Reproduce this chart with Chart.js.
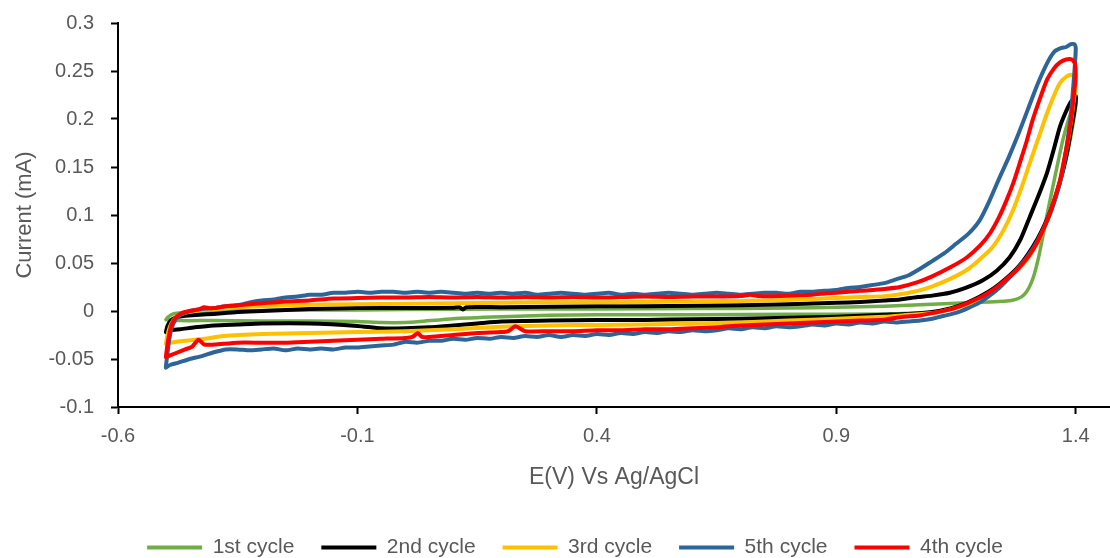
<!DOCTYPE html>
<html>
<head>
<meta charset="utf-8">
<script src="https://cdn.jsdelivr.net/npm/chart.js@4.4.1/dist/chart.umd.min.js"></script>
<style>
  html, body { margin: 0; padding: 0; background: #ffffff; }
  #wrap { width: 1110px; height: 558px; }
</style>
</head>
<body>
<div id="wrap"><canvas id="c" width="1110" height="558"></canvas></div>
<script>
// ---- Data (E in V vs Ag/AgCl, current in mA) ----
const xTicks = [-0.6, -0.1, 0.4, 0.9, 1.4];
const xTickLabels = ['-0.6', '-0.1', '0.4', '0.9', '1.4'];
const yTicks = [-0.1, -0.05, 0, 0.05, 0.1, 0.15, 0.2, 0.25, 0.3];
const yTickLabels = ['-0.1', '-0.05', '0', '0.05', '0.1', '0.15', '0.2', '0.25', '0.3'];
const seriesNames = ['1st cycle', '2nd cycle', '3rd cycle', '5th cycle', '4th cycle'];
const seriesColors = ['#70AD47', '#000000', '#FFC000', '#2E6599', '#FF0000'];

// 1st cycle
const cycle1Fwd = [[-0.5,-0.009],[-0.495,-0.006],[-0.485,-0.003],[-0.47,-0.002],[-0.45,-0.001],[-0.4,0.0],[-0.3,0.0005],[-0.2,0.001],[-0.1,0.001],[0.0,0.0015],[0.2,0.002],[0.4,0.002],[0.6,0.0025],[0.8,0.003],[0.9,0.004],[1.0,0.005],[1.05,0.006],[1.1,0.007],[1.15,0.008],[1.2,0.009],[1.24,0.010],[1.265,0.011],[1.28,0.013],[1.292,0.017],[1.302,0.024],[1.312,0.036],[1.322,0.055],[1.331,0.077],[1.342,0.105],[1.352,0.129],[1.362,0.153],[1.373,0.178],[1.384,0.198],[1.394,0.212],[1.4,0.217]];
const cycle1Rev = [[1.4,0.214],[1.396,0.2],[1.39,0.183],[1.383,0.165],[1.374,0.146],[1.363,0.126],[1.35,0.106],[1.335,0.088],[1.32,0.073],[1.3,0.057],[1.28,0.045],[1.255,0.033],[1.23,0.023],[1.2,0.014],[1.17,0.007],[1.14,0.002],[1.1,-0.001],[1.0,-0.003],[0.8,-0.0035],[0.6,-0.004],[0.4,-0.004],[0.3,-0.0045],[0.2,-0.006],[0.1,-0.008],[0.03,-0.011],[0.0,-0.012],[-0.05,-0.012],[-0.1,-0.011],[-0.2,-0.0105],[-0.3,-0.0105],[-0.4,-0.010],[-0.47,-0.010],[-0.5,-0.009]];

// 2nd cycle
const cycle2Fwd = [[-0.5,-0.022],[-0.497,-0.016],[-0.49,-0.010],[-0.48,-0.007],[-0.46,-0.005],[-0.43,-0.004],[-0.4,-0.003],[-0.35,-0.001],[-0.3,0.0],[-0.2,0.002],[-0.1,0.003],[0.0,0.003],[0.1,0.0035],[0.113,0.004],[0.12,0.0015],[0.127,0.004],[0.2,0.004],[0.3,0.0045],[0.4,0.005],[0.5,0.005],[0.6,0.0055],[0.7,0.006],[0.8,0.007],[0.9,0.0085],[0.95,0.0095],[1.0,0.011],[1.033,0.012],[1.07,0.0145],[1.1,0.016],[1.137,0.019],[1.17,0.024],[1.206,0.032],[1.235,0.042],[1.262,0.056],[1.285,0.075],[1.304,0.098],[1.322,0.120],[1.34,0.144],[1.355,0.170],[1.367,0.192],[1.378,0.206],[1.388,0.2165],[1.395,0.221],[1.4,0.224]];
const cycle2Rev = [[1.4,0.218],[1.396,0.205],[1.39,0.188],[1.383,0.168],[1.374,0.148],[1.363,0.128],[1.35,0.108],[1.335,0.090],[1.32,0.075],[1.3,0.059],[1.28,0.046],[1.255,0.034],[1.23,0.024],[1.2,0.015],[1.17,0.008],[1.14,0.003],[1.1,-0.001],[1.05,-0.003],[1.0,-0.004],[0.9,-0.006],[0.8,-0.007],[0.7,-0.008],[0.6,-0.0085],[0.5,-0.0094],[0.4,-0.0095],[0.3,-0.010],[0.2,-0.011],[0.15,-0.013],[0.1,-0.015],[0.05,-0.017],[0.0,-0.018],[-0.05,-0.018],[-0.1,-0.0155],[-0.2,-0.013],[-0.3,-0.013],[-0.35,-0.014],[-0.4,-0.015],[-0.44,-0.017],[-0.47,-0.019],[-0.49,-0.020],[-0.5,-0.022]];

// 3rd cycle
const cycle3Fwd = [[-0.5,-0.034],[-0.497,-0.026],[-0.492,-0.017],[-0.485,-0.010],[-0.475,-0.005],[-0.46,-0.002],[-0.44,0.0],[-0.4,0.002],[-0.35,0.004],[-0.3,0.005],[-0.2,0.0065],[-0.1,0.007],[0.0,0.0075],[0.1,0.008],[0.2,0.0085],[0.3,0.009],[0.4,0.009],[0.5,0.0095],[0.6,0.010],[0.7,0.0105],[0.8,0.0115],[0.85,0.0125],[0.9,0.0135],[0.95,0.0145],[1.0,0.0155],[1.033,0.0175],[1.07,0.021],[1.102,0.026],[1.14,0.034],[1.173,0.043],[1.2,0.054],[1.227,0.067],[1.25,0.085],[1.269,0.105],[1.287,0.129],[1.304,0.154],[1.322,0.180],[1.34,0.206],[1.355,0.225],[1.367,0.2375],[1.38,0.244],[1.39,0.246],[1.398,0.244]];
const cycle3Rev = [[1.4,0.235],[1.396,0.22],[1.392,0.204],[1.387,0.187],[1.381,0.170],[1.374,0.152],[1.367,0.135],[1.357,0.118],[1.346,0.101],[1.333,0.085],[1.319,0.070],[1.3,0.055],[1.277,0.042],[1.25,0.030],[1.227,0.021],[1.2,0.013],[1.173,0.007],[1.14,0.002],[1.102,-0.002],[1.05,-0.004],[1.0,-0.006],[0.9,-0.008],[0.8,-0.010],[0.7,-0.012],[0.6,-0.013],[0.5,-0.014],[0.4,-0.0145],[0.3,-0.015],[0.2,-0.0165],[0.1,-0.019],[0.0,-0.021],[-0.1,-0.022],[-0.2,-0.023],[-0.3,-0.024],[-0.38,-0.026],[-0.42,-0.029],[-0.46,-0.031],[-0.49,-0.033],[-0.5,-0.034]];

// 5th cycle
const cycle5Fwd = [[-0.5,-0.058],[-0.497,-0.045],[-0.493,-0.030],[-0.488,-0.018],[-0.48,-0.009],[-0.47,-0.004],[-0.46,-0.002],[-0.45,0.000],[-0.425,0.002],[-0.4,0.003],[-0.375,0.005],[-0.35,0.006],[-0.325,0.009],[-0.3,0.011],[-0.275,0.012],[-0.25,0.014],[-0.225,0.015],[-0.2,0.017],[-0.175,0.017],[-0.15,0.019],[-0.125,0.019],[-0.1,0.020],[-0.075,0.019],[-0.05,0.020],[-0.025,0.020],[0,0.019],[0.025,0.020],[0.05,0.019],[0.075,0.020],[0.1,0.019],[0.125,0.018],[0.15,0.019],[0.175,0.018],[0.2,0.019],[0.225,0.018],[0.25,0.019],[0.275,0.017],[0.3,0.018],[0.325,0.019],[0.35,0.018],[0.375,0.017],[0.4,0.018],[0.425,0.019],[0.45,0.017],[0.475,0.018],[0.5,0.017],[0.525,0.018],[0.55,0.019],[0.575,0.018],[0.6,0.017],[0.625,0.018],[0.65,0.019],[0.675,0.018],[0.7,0.017],[0.725,0.018],[0.75,0.019],[0.775,0.019],[0.8,0.018],[0.825,0.020],[0.85,0.020],[0.875,0.021],[0.9,0.022],[0.925,0.024],[0.95,0.025],[0.975,0.027],[1.0,0.029],[1.025,0.033],[1.05,0.037],[1.075,0.044],[1.1,0.052],[1.125,0.060],[1.15,0.070],[1.175,0.080],[1.2,0.095],[1.22,0.115],[1.24,0.138],[1.26,0.160],[1.28,0.184],[1.3,0.210],[1.32,0.236],[1.34,0.258],[1.355,0.270],[1.37,0.274],[1.38,0.275],[1.39,0.278],[1.397,0.278],[1.4,0.274]];
const cycle5Rev = [[1.398,0.255],[1.395,0.235],[1.39,0.205],[1.383,0.178],[1.375,0.152],[1.365,0.130],[1.35,0.106],[1.335,0.088],[1.32,0.073],[1.3,0.057],[1.28,0.045],[1.26,0.034],[1.24,0.024],[1.22,0.016],[1.2,0.009],[1.175,0.003],[1.15,-0.002],[1.125,-0.005],[1.1,-0.008],[1.075,-0.010],[1.05,-0.011],[1.025,-0.012],[1.0,-0.011],[0.975,-0.013],[0.95,-0.012],[0.925,-0.014],[0.9,-0.013],[0.875,-0.015],[0.85,-0.014],[0.825,-0.016],[0.8,-0.017],[0.775,-0.016],[0.75,-0.018],[0.725,-0.017],[0.7,-0.019],[0.675,-0.018],[0.65,-0.020],[0.625,-0.021],[0.6,-0.020],[0.575,-0.022],[0.55,-0.021],[0.525,-0.023],[0.5,-0.022],[0.475,-0.024],[0.45,-0.023],[0.425,-0.025],[0.4,-0.024],[0.375,-0.026],[0.35,-0.025],[0.325,-0.027],[0.3,-0.025],[0.275,-0.027],[0.25,-0.026],[0.225,-0.028],[0.2,-0.027],[0.175,-0.029],[0.15,-0.028],[0.125,-0.030],[0.1,-0.029],[0.075,-0.031],[0.05,-0.031],[0.025,-0.033],[0,-0.032],[-0.025,-0.035],[-0.05,-0.036],[-0.075,-0.037],[-0.1,-0.038],[-0.125,-0.038],[-0.15,-0.040],[-0.175,-0.039],[-0.2,-0.040],[-0.225,-0.039],[-0.25,-0.041],[-0.275,-0.039],[-0.3,-0.040],[-0.325,-0.041],[-0.35,-0.040],[-0.375,-0.040],[-0.4,-0.043],[-0.425,-0.047],[-0.45,-0.050],[-0.475,-0.054],[-0.49,-0.056],[-0.5,-0.059]];

// 4th cycle
const cycle4Fwd = [[-0.5,-0.048],[-0.497,-0.036],[-0.493,-0.024],[-0.488,-0.014],[-0.48,-0.007],[-0.47,-0.003],[-0.46,-0.001],[-0.45,0.000],[-0.43,0.002],[-0.42,0.004],[-0.41,0.003],[-0.4,0.003],[-0.375,0.005],[-0.35,0.006],[-0.3,0.008],[-0.25,0.010],[-0.2,0.011],[-0.15,0.013],[-0.1,0.0135],[-0.05,0.014],[0,0.014],[0.05,0.0145],[0.1,0.014],[0.15,0.0145],[0.2,0.014],[0.25,0.0145],[0.3,0.014],[0.35,0.0145],[0.4,0.014],[0.45,0.0145],[0.5,0.015],[0.55,0.0145],[0.6,0.015],[0.65,0.015],[0.7,0.0155],[0.72,0.017],[0.74,0.0155],[0.8,0.016],[0.85,0.017],[0.88,0.0185],[0.9,0.019],[0.95,0.021],[1.0,0.023],[1.033,0.025],[1.07,0.030],[1.1,0.036],[1.14,0.046],[1.173,0.056],[1.2,0.068],[1.221,0.081],[1.24,0.098],[1.256,0.116],[1.27,0.134],[1.283,0.154],[1.297,0.176],[1.31,0.199],[1.325,0.221],[1.34,0.241],[1.355,0.253],[1.367,0.259],[1.38,0.262],[1.392,0.262],[1.398,0.258]];
const cycle4Rev = [[1.4,0.245],[1.396,0.225],[1.392,0.206],[1.387,0.188],[1.381,0.171],[1.374,0.153],[1.367,0.136],[1.357,0.119],[1.346,0.102],[1.333,0.086],[1.319,0.071],[1.3,0.056],[1.277,0.043],[1.25,0.031],[1.227,0.022],[1.2,0.014],[1.173,0.008],[1.14,0.002],[1.102,-0.002],[1.07,-0.005],[1.04,-0.006],[1.0,-0.009],[0.95,-0.010],[0.9,-0.011],[0.85,-0.012],[0.8,-0.013],[0.75,-0.014],[0.7,-0.015],[0.65,-0.017],[0.6,-0.018],[0.55,-0.019],[0.5,-0.019],[0.45,-0.020],[0.4,-0.020],[0.35,-0.021],[0.3,-0.021],[0.25,-0.021],[0.23,-0.016],[0.215,-0.021],[0.2,-0.022],[0.15,-0.023],[0.1,-0.025],[0.05,-0.027],[0.035,-0.027],[0.026,-0.023],[0.015,-0.027],[0,-0.028],[-0.05,-0.029],[-0.1,-0.030],[-0.15,-0.031],[-0.2,-0.032],[-0.25,-0.033],[-0.3,-0.033],[-0.35,-0.033],[-0.4,-0.035],[-0.42,-0.035],[-0.432,-0.030],[-0.445,-0.037],[-0.46,-0.040],[-0.48,-0.044],[-0.5,-0.048]];

const seriesData = [
  cycle1Fwd.concat(cycle1Rev),
  cycle2Fwd.concat(cycle2Rev),
  cycle3Fwd.concat(cycle3Rev),
  cycle5Fwd.concat(cycle5Rev),
  cycle4Fwd.concat(cycle4Rev)
];
// drawing order: later legend entries on top
const drawOrder = [4, 3, 2, 1, 0];
const lineWidths = [3.5, 4, 4, 4, 4];

const FONT = "'Liberation Sans', Arial, sans-serif";
const TXT = '#595959';

const datasets = seriesNames.map((name, i) => ({
  label: name,
  data: seriesData[i].map(p => ({ x: p[0], y: p[1] })),
  borderColor: seriesColors[i],
  backgroundColor: seriesColors[i],
  borderWidth: lineWidths[i],
  showLine: true,
  fill: false,
  pointRadius: 0,
  pointHoverRadius: 0,
  tension: 0.2,
  borderJoinStyle: 'round',
  borderCapStyle: 'round',
  order: drawOrder[i]
}));

const legendShift = {
  id: 'legendShift',
  afterLayout(chart) {
    if (chart.legend) { chart.legend.left += 20; chart.legend.right += 20; }
  }
};

new Chart(document.getElementById('c'), {
  type: 'scatter',
  data: { datasets },
  plugins: [legendShift],
  options: {
    responsive: false,
    animation: false,
    devicePixelRatio: 1,
    layout: { padding: { top: 23, right: 0, bottom: -10, left: 0 } },
    plugins: {
      tooltip: { enabled: false },
      legend: {
        position: 'bottom',
        labels: {
          boxWidth: 55,
          boxHeight: 4,
          padding: 27,
          color: TXT,
          font: { family: FONT, size: 21 },
          generateLabels: (chart) => chart.data.datasets.map((ds, i) => ({
            text: ds.label,
            fillStyle: ds.borderColor,
            strokeStyle: ds.borderColor,
            lineWidth: 0,
            hidden: false,
            datasetIndex: i,
            fontColor: TXT
          }))
        }
      }
    },
    scales: {
      x: {
        type: 'linear',
        min: -0.6,
        max: 1.4715,
        afterBuildTicks: (axis) => { axis.ticks = xTicks.map(v => ({ value: v })); },
        afterFit: (scale) => { scale.height = 103; },
        ticks: {
          color: TXT,
          font: { family: FONT, size: 20 },
          padding: 10,
          maxRotation: 0,
          autoSkip: false,
          callback: (v) => xTickLabels[xTicks.indexOf(v)]
        },
        grid: { drawOnChartArea: false, drawTicks: true, tickLength: 7, tickColor: '#000', tickWidth: 2, color: '#000' },
        border: { display: true, color: '#000', width: 2 },
        title: { display: true, text: 'E(V) Vs Ag/AgCl', color: TXT, font: { family: FONT, size: 23 }, padding: { top: 10, bottom: 19 } }
      },
      y: {
        type: 'linear',
        min: -0.1,
        max: 0.3,
        afterBuildTicks: (axis) => { axis.ticks = yTicks.map(v => ({ value: v })); },
        afterFit: (scale) => { scale.width = 118; scale.paddingTop = 0; scale.paddingBottom = 0; },
        ticks: {
          color: TXT,
          font: { family: FONT, size: 20 },
          padding: 17,
          autoSkip: false,
          callback: (v) => yTickLabels[yTicks.indexOf(v)]
        },
        grid: { drawOnChartArea: false, drawTicks: true, tickLength: 7, tickColor: '#000', tickWidth: 2, color: '#000' },
        border: { display: true, color: '#000', width: 2 },
        title: { display: true, text: 'Current (mA)', color: TXT, font: { family: FONT, size: 22 }, padding: { top: 12, bottom: 10 } }
      }
    }
  }
});
</script>
</body>
</html>
